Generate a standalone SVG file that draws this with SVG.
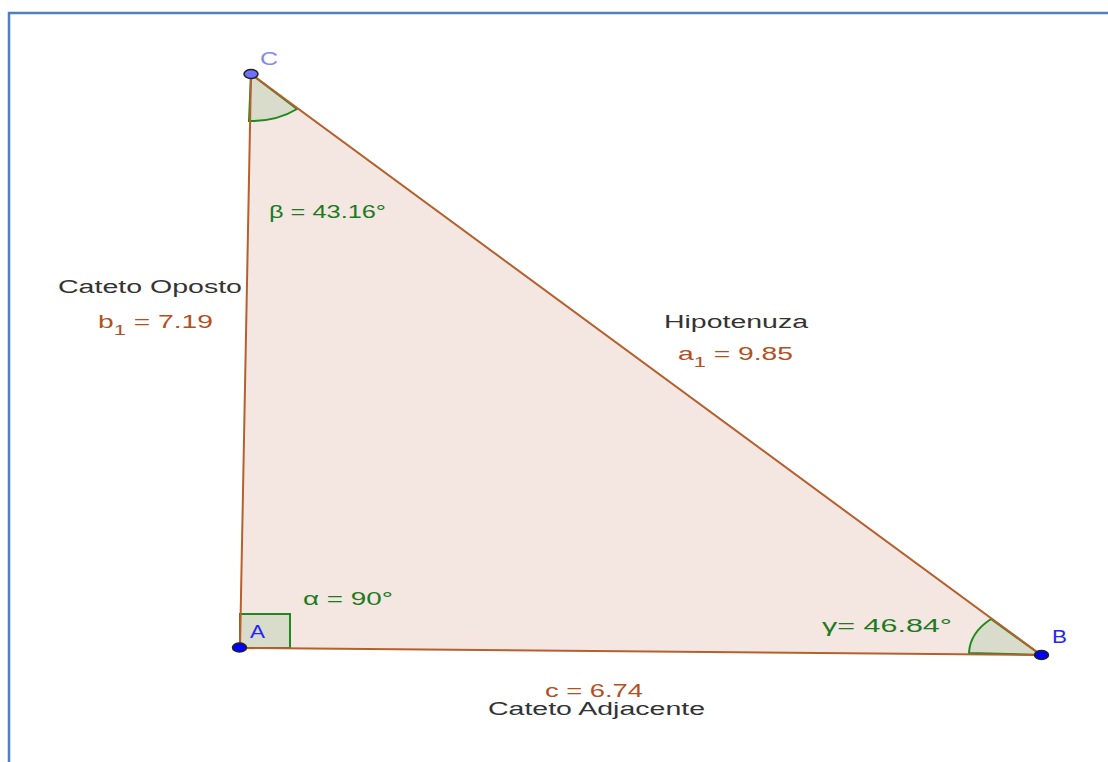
<svg xmlns="http://www.w3.org/2000/svg" width="1108" height="762" viewBox="0 0 1108 762">
<style>
text{font-family:"Liberation Sans",Arial,sans-serif;font-size:18px}
.g{fill:#1E7A1E}
.br{fill:#B5501E}
.k{fill:#333333}
.side{stroke:#B5602E;stroke-width:2;fill:none;stroke-linecap:round}
.ang{fill:#D9DBCB;stroke:#1E8A1E;stroke-width:2}
.pt{stroke:#222;stroke-width:1.5}
</style>
<rect width="1108" height="762" fill="#FFFFFF"/>
<path d="M9 762 V13 H1108" fill="none" stroke="#4F81BD" stroke-width="2.5"/>
<g id="triangle">
<polygon points="240,648 1041,655 251,74" fill="#F4E7E2"/>
</g>
<g id="angles">
<path class="ang" d="M251 74 L249 121 A69 47 0 0 0 297 109 Z"/>
<path class="ang" d="M1041 655 L969 653 A72 49 0 0 1 991 619 Z"/>
<rect class="ang" x="240" y="614" width="50" height="34"/>
</g>
<g id="connectors">
<line class="side" x1="240" y1="648" x2="251" y2="74"/>
<line class="side" x1="251" y1="74" x2="1041" y2="655"/>
<line class="side" x1="240" y1="648" x2="1041" y2="655"/>
</g>
<g id="C">
<ellipse class="pt" cx="251" cy="74" rx="7" ry="4.5" fill="#7070FF"/>
<text x="260" y="65" fill="#8585FF" font-size="17" textLength="18" lengthAdjust="spacingAndGlyphs">C</text>
</g>
<g id="A">
<ellipse class="pt" cx="239.5" cy="647.5" rx="7" ry="4.5" fill="#0000FF"/>
<text x="250" y="638" fill="#2424FF" font-size="17" textLength="15" lengthAdjust="spacingAndGlyphs">A</text>
</g>
<g id="B">
<ellipse class="pt" cx="1041.5" cy="655" rx="7" ry="4.5" fill="#0000FF"/>
<text x="1052" y="643" fill="#2424FF" font-size="17" textLength="15" lengthAdjust="spacingAndGlyphs">B</text>
</g>
<g id="labels">
<text class="g" x="269" y="218" textLength="117" lengthAdjust="spacingAndGlyphs">β = 43.16°</text>
<text class="g" x="303" y="605" textLength="90" lengthAdjust="spacingAndGlyphs">α = 90°</text>
<text class="g" x="822" y="632" textLength="130" lengthAdjust="spacingAndGlyphs">γ= 46.84°</text>
<text class="k" x="58" y="293" textLength="184" lengthAdjust="spacingAndGlyphs">Cateto Oposto</text>
<text class="br" x="98" y="328" textLength="115" lengthAdjust="spacingAndGlyphs">b<tspan font-size="14" dy="7">1</tspan><tspan dy="-7"> = 7.19</tspan></text>
<text class="k" x="664" y="328" textLength="144" lengthAdjust="spacingAndGlyphs">Hipotenuza</text>
<text class="br" x="678" y="360" textLength="115" lengthAdjust="spacingAndGlyphs">a<tspan font-size="14" dy="7">1</tspan><tspan dy="-7"> = 9.85</tspan></text>
<text class="br" x="545" y="697" textLength="98" lengthAdjust="spacingAndGlyphs">c = 6.74</text>
<text class="k" x="488" y="715" textLength="217" lengthAdjust="spacingAndGlyphs">Cateto Adjacente</text>
</g>
</svg>
